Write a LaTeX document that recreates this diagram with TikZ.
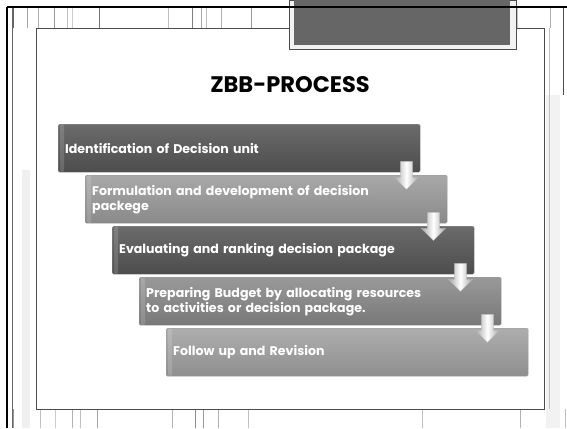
\documentclass[tikz,border=0pt]{standalone}
\usepackage{fontspec}
\setmainfont{Poppins}
\usetikzlibrary{shapes.arrows,calc}
\definecolor{tabgray}{HTML}{666666}
\tikzset{
  panel/.style={draw=black!70,fill=white,line width=.6pt,minimum width=508pt,minimum height=381pt,inner sep=0pt},
  stage/.style={anchor=north west,minimum width=362pt,minimum height=48pt,text width=348pt,
    inner xsep=7pt,inner ysep=0pt,align=left,rounded corners=1.5pt,draw=black!40,line width=.4pt,
    text=white,font=\bfseries\fontsize{12.6}{15}\selectfont,
    path picture={\fill[white,opacity=.15] ([xshift=2pt]path picture bounding box.south west)
      rectangle ([xshift=6pt]path picture bounding box.north west);}},
  flowarrow/.style={single arrow,shape border rotate=270,minimum height=28pt,
    inner sep=6pt,single arrow head extend=6pt,left color=black!35,right color=black!35,
    middle color=white,draw=black!30,line width=.3pt},
  stripe/.style={line width=.8pt}
}

\begin{document}
\begin{tikzpicture}[x=1pt,y=-1pt]
  \useasboundingbox (0,0) rectangle (567,428);
  \foreach \x/\t in {13/60,27/35,38/30,54/40,67/25,72/20,99/55,168/25,192/50,201/35,206/25,221/30,251/40,517/25,550/30}
    \draw[stripe,black!\t] (\x,8) -- (\x,28);
  \foreach \x/\t in {13/40,25/25,40/25,55/20,72/30,80/25,97/35,172/30,195/45,203/40,218/30,248/25,422/25,520/30,550/30,565/25}
    \draw[stripe,black!\t] (\x,409) -- (\x,428);
  \fill[black!6] (22,170) rectangle (30,428);
  \fill[black!5] (546,95) rectangle (560,428);
  \draw[black!60] (12,7) -- (12,428);
  \draw[black!25] (549,28) -- (549,409);
  \draw[black!70] (563,7) -- (563,95);

  \node[panel] (panel) at (290,218.5) {};
  \filldraw[fill=black!5,draw=black!70,line width=.6pt] (289,0) rectangle (516,49);
  \fill[tabgray] (294,0) rectangle (510,45);
  \draw[line width=2pt] (7,7) -- (567,7);
  \draw[line width=2pt] (7,7) -- (7,428);

  \node[font=\bfseries\fontsize{22.5}{26}\selectfont] (title) at (290,84.5) {ZBB-PROCESS};

  \foreach \i/\top/\bot/\txt in {
      1/58/70/{Identification of Decision unit},
      2/34/46/{Formulation and development of decision\\packege},
      3/58/70/{Evaluating and ranking decision package},
      4/40/53/{Preparing Budget by allocating resources\\to activities or decision package.},
      5/32/44/{Follow up and Revision}}
    \node[stage,top color=black!\top,bottom color=black!\bot] (b\i)
      at ({58+27*(\i-1)},{124+51*(\i-1)}) {\txt};

  \foreach \i in {1,...,4}
    \node[flowarrow] (arr\i) at ($(b\i.south east)+(-14,0)$) {};
\end{tikzpicture}
\end{document}
